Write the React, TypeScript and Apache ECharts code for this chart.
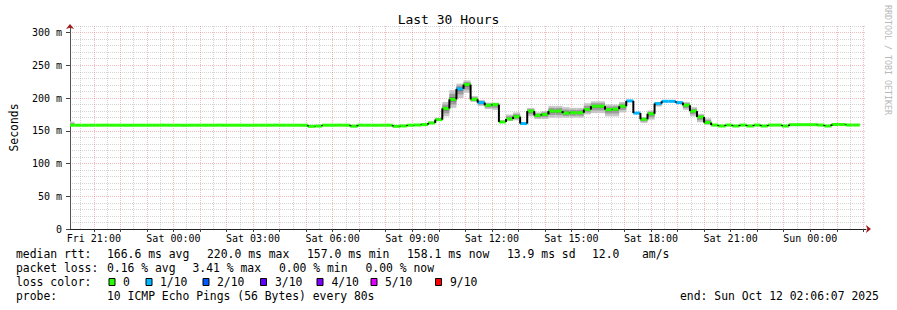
import React, { useEffect, useRef } from 'react';
import * as echarts from 'echarts';

// ---- time frame (minutes counted from Fri 2025-10-10 18:00 local) ----
const START_MIN = 126 + 7 / 60; // Fri 20:06:07
const END_MIN = 1926 + 7 / 60; // Sun 02:06:07
const FIRST_STEP_MIN = 120; // first consolidated step (16 min each)
const STEP_MIN = 16;

const dayNames = ['Fri', 'Sat', 'Sun'];
const xLabelMinutes = [180, 360, 540, 720, 900, 1080, 1260, 1440, 1620, 1800];
const yTickValues = [0, 50, 100, 150, 200, 250, 300];
const Y_MAX = 310;

// ---- median RTT per 16-minute step (ms) ----
const medianMs = [
  158.5, 158.5, 158.4, 158.5, 158.5, 158.6, 158.5, 158.5, 158.4, 158.5,
  158.5, 158.5, 158.5, 158.6, 158.5, 158.5, 158.4, 158.5, 158.5, 158.5,
  158.5, 158.6, 158.5, 158.5, 158.5, 158.4, 158.5, 158.5, 158.5, 158.6,
  158.5, 158.5, 158.5, 158.4, 156.8, 157.2, 158.5, 158.5, 158.6, 158.5,
  157.0, 158.5, 158.5, 158.4, 158.5, 158.5, 156.8, 157.4, 158.5, 158.8,
  159.5, 162.0, 167.0, 184.0, 198.0, 214.0, 220.5, 198.0, 193.0, 189.0,
  190.0, 163.5, 168.0, 171.5, 161.0, 180.0, 173.5, 175.0, 180.0, 180.0,
  177.0, 177.5, 177.5, 182.4, 187.5, 187.5, 182.4, 183.0, 187.5, 195.6,
  177.0, 167.6, 176.0, 191.6, 195.0, 195.0, 193.0, 189.0, 180.0, 171.0,
  162.5, 158.7, 157.3, 158.7, 157.3, 158.7, 157.3, 158.7, 157.3, 158.7,
  158.7, 157.3, 159.3, 159.3, 159.3, 159.3, 158.7, 157.3, 159.6, 159.6,
  158.8, 158.8,
];

// ---- smoke extent per step (ms) ----
const smokeLoMs = [
  158.0, 157.8, 157.7, 157.8, 157.8, 157.9, 157.8, 157.8, 157.7, 157.8,
  157.8, 157.8, 157.8, 157.9, 157.8, 157.8, 157.7, 157.8, 157.8, 157.8,
  157.8, 157.9, 157.8, 157.8, 157.8, 157.7, 157.8, 157.8, 157.8, 157.9,
  157.8, 157.8, 157.8, 157.7, 156.1, 156.5, 157.8, 157.8, 157.9, 157.8,
  156.3, 157.8, 157.8, 157.7, 157.8, 157.8, 156.1, 156.7, 157.8, 158.0,
  158.7, 160.5, 165.0, 172.0, 185.0, 200.0, 208.0, 194.0, 188.0, 183.0,
  182.0, 162.0, 165.0, 166.0, 160.0, 172.0, 168.0, 168.0, 170.0, 170.0,
  170.0, 170.0, 170.0, 175.0, 177.0, 177.0, 172.0, 172.0, 178.0, 194.5,
  176.0, 162.0, 167.0, 187.0, 194.0, 194.0, 192.0, 182.0, 172.0, 163.0,
  159.0, 157.8, 156.4, 157.8, 156.4, 157.8, 156.4, 157.8, 156.4, 157.8,
  157.8, 156.4, 158.4, 158.4, 158.4, 158.4, 157.8, 156.4, 158.7, 158.7,
  157.9, 157.9,
];
const smokeHiMs = [
  164.0, 159.2, 159.1, 159.2, 159.2, 159.3, 159.2, 159.2, 159.1, 159.2,
  159.2, 159.2, 159.2, 159.3, 159.2, 159.2, 159.1, 159.2, 159.2, 159.2,
  159.2, 159.3, 159.2, 159.2, 159.2, 159.1, 159.2, 159.2, 159.2, 159.3,
  159.2, 159.2, 159.2, 159.1, 157.5, 157.9, 159.2, 159.2, 159.3, 159.2,
  157.7, 159.2, 159.2, 159.1, 159.2, 159.2, 157.5, 158.1, 159.2, 159.6,
  160.3, 164.0, 170.0, 194.0, 212.0, 222.0, 227.0, 203.0, 197.0, 193.0,
  193.0, 166.0, 175.0, 178.0, 163.0, 185.0, 178.0, 180.0, 188.0, 188.0,
  186.0, 185.0, 185.0, 192.0, 195.0, 195.0, 190.0, 190.0, 194.0, 197.0,
  178.5, 171.0, 181.0, 194.0, 196.0, 196.0, 194.5, 194.0, 186.0, 176.0,
  169.0, 159.6, 158.2, 159.6, 158.2, 159.6, 158.2, 159.6, 158.2, 159.6,
  159.6, 158.2, 160.2, 160.2, 160.2, 160.2, 159.6, 158.2, 160.5, 160.5,
  159.7, 159.7,
];

// ---- packet loss per step (tenths) ----
const lossTenths = [
  0, 0, 0, 0, 0, 0, 0, 0, 0, 0,
  0, 0, 0, 0, 0, 0, 0, 0, 0, 0,
  0, 0, 0, 0, 0, 0, 0, 0, 0, 0,
  0, 0, 0, 0, 0, 0, 0, 0, 0, 0,
  0, 0, 0, 0, 0, 0, 0, 0, 0, 0,
  0, 0, 0, 0, 0, 1, 0, 0, 1, 0,
  0, 0, 0, 0, 1, 0, 0, 0, 0, 0,
  0, 0, 0, 0, 0, 0, 0, 0, 0, 1,
  1, 0, 0, 1, 1, 1, 1, 0, 0, 0,
  0, 0, 0, 0, 0, 0, 0, 0, 0, 0,
  0, 0, 0, 0, 0, 0, 0, 0, 0, 0,
  0, 0,
];

const lossLevels = [0, 1, 2, 3, 4, 5, 9];
const lossLabels = ['0', '1/10', '2/10', '3/10', '4/10', '5/10', '9/10'];
const lossColors = ['#26ff00', '#00b8ff', '#0059ff', '#5e00ff', '#7e00ff', '#dd00ff', '#ff0000'];

// ---- legend texts ----
const rttStats = ['median rtt:', '166.6 ms avg', '220.0 ms max', '157.0 ms min', '158.1 ms now', '13.9 ms sd', '12.0', 'am/s'];
const lossStats = ['packet loss:', '0.16 % avg', '3.41 % max', '0.00 % min', '0.00 % now'];
const probeText = ['probe:', '10 ICMP Echo Pings (56 Bytes) every 80s'];
const endText = 'end: Sun Oct 12 02:06:07 2025';
const titleText = 'Last 30 Hours';
const watermark = 'RRDTOOL / TOBI OETIKER';

// layout positions (pixels)
const rttX = [16, 107, 207, 307, 407, 507, 592, 642];
const lossX = [16, 107, 192.5, 279, 365.5];
const boxX = [109, 146, 203, 260.5, 317, 371, 435.5];
const boxLabelX = [123, 160, 217, 275, 331.5, 385, 450];

const MONO = "'DejaVu Sans Mono', monospace";
const LEGEND_FONT = 11.4;

function colorForLoss(l: number) {
  const i = lossLevels.indexOf(l);
  return lossColors[i >= 0 ? i : 0];
}

function fmtTime(m: number) {
  const total = Math.round(m) + 18 * 60;
  const day = Math.floor(total / 1440);
  const h = Math.floor((total % 1440) / 60);
  const mm = total % 60;
  const p = (n: number) => (n < 10 ? '0' + n : '' + n);
  return `${dayNames[day]} ${p(h)}:${p(mm)}`;
}

const hourMinutes: number[] = [];
for (let m = 180; m <= 1920; m += 60) hourMinutes.push(m);
const halfHourMinutes: number[] = [];
for (let m = 150; m <= 1920; m += 60) halfHourMinutes.push(m);
const yMinorValues: number[] = [];
for (let v = 10; v <= Y_MAX; v += 10) if (v % 50 !== 0) yMinorValues.push(v);

const rows = medianMs.map((m, j) => [
  FIRST_STEP_MIN + STEP_MIN * j,
  FIRST_STEP_MIN + STEP_MIN * (j + 1),
  m,
  smokeLoMs[j],
  smokeHiMs[j],
  lossTenths[j],
]);

function renderStep(params: any, api: any) {
  const j = params.dataIndex;
  const t0 = api.value(0) as number;
  const t1 = api.value(1) as number;
  const med = api.value(2) as number;
  const lo = api.value(3) as number;
  const hi = api.value(4) as number;
  const loss = api.value(5) as number;
  const x0 = api.coord([t0, med])[0];
  const x1 = api.coord([t1, med])[0];
  const y = (v: number) => api.coord([t0, v])[1];
  const band = (a: number, b: number, fill: string) => ({
    type: 'rect',
    shape: { x: x0, y: y(b), width: x1 - x0, height: y(a) - y(b) },
    style: { fill },
    silent: true,
  });
  const children: any[] = [
    band(lo, hi, '#c6c6c6'),
    band(med - (med - lo) * 0.6, med + (hi - med) * 0.6, '#9c9c9c'),
    band(med - (med - lo) * 0.25, med + (hi - med) * 0.25, '#6c6c6c'),
    {
      type: 'line',
      shape: { x1: x0, y1: y(med), x2: x1, y2: y(med) },
      style: { stroke: colorForLoss(loss), lineWidth: 3, lineCap: 'butt' },
      silent: true,
    },
  ];
  if (j > 0) {
    children.push({
      type: 'line',
      shape: { x1: x0, y1: y(medianMs[j - 1]), x2: x0, y2: y(med) },
      style: { stroke: '#000', lineWidth: 2, lineCap: 'butt' },
      silent: true,
    });
  }
  return { type: 'group', children };
}

function txt(x: number, y: number, text: string, extra: any = {}) {
  return {
    type: 'text',
    x,
    y,
    silent: true,
    style: {
      text,
      fontFamily: MONO,
      fontSize: LEGEND_FONT,
      fill: '#000',
      align: 'left',
      textAlign: 'left',
      verticalAlign: 'middle',
      textVerticalAlign: 'middle',
      ...extra,
    },
  };
}

export default function App() {
  const ref = useRef<HTMLDivElement>(null);
  useEffect(() => {
    if (!ref.current) return;
    const chart = echarts.init(ref.current, undefined, { renderer: 'svg' });

    const gridLineRed = { color: 'rgba(225,80,80,0.38)', width: 1, type: [1, 1] };
    const gridLineGray = { color: 'rgba(150,150,150,0.4)', width: 1, type: [1, 1] };

    const graphics: any[] = [];
    graphics.push(txt(448.5, 19, titleText, { fontSize: 13, align: 'center', textAlign: 'center' }));
    graphics.push({
      ...txt(887.5, 5, watermark, { fontSize: 8.3, fill: '#b8b8b8' }),
      rotation: -Math.PI / 2,
    });
    rttStats.forEach((t, i) => graphics.push(txt(rttX[i], 254, t)));
    lossStats.forEach((t, i) => graphics.push(txt(lossX[i], 268, t)));
    graphics.push(txt(16, 282, 'loss color:'));
    lossLabels.forEach((t, i) => {
      graphics.push({
        type: 'rect',
        silent: true,
        shape: { x: boxX[i], y: 278.5, width: 6, height: 7 },
        style: { fill: lossColors[i], stroke: '#000', lineWidth: 1 },
      });
      graphics.push(txt(boxLabelX[i], 282, t));
    });
    graphics.push(txt(16, 296, probeText[0]));
    graphics.push(txt(107, 296, probeText[1]));
    graphics.push(txt(680, 296, endText));

    const option: any = {
      animation: false,
      backgroundColor: '#ffffff',
      grid: { left: 66, right: 31, top: 26, bottom: 81 },
      xAxis: [
        {
          type: 'value',
          position: 'bottom',
          min: START_MIN,
          max: END_MIN,
          axisLine: { show: true, onZero: false, lineStyle: { color: '#222', width: 1 } },
          axisTick: { show: true, customValues: hourMinutes, length: 3, lineStyle: { color: '#444' } },
          axisLabel: {
            show: true,
            customValues: xLabelMinutes,
            formatter: (v: number) => fmtTime(v),
            fontFamily: MONO,
            fontSize: 10,
            color: '#000',
            margin: 4,
          },
          splitLine: { show: true, lineStyle: gridLineRed },
        },
        {
          type: 'value',
          position: 'top',
          min: START_MIN,
          max: END_MIN,
          axisLine: { show: false },
          axisTick: { show: false, customValues: halfHourMinutes },
          axisLabel: { show: false },
          splitLine: { show: true, lineStyle: gridLineGray },
        },
        {
          type: 'value',
          position: 'bottom',
          min: START_MIN,
          max: END_MIN,
          axisLine: {
            show: true,
            onZero: false,
            symbol: ['none', 'arrow'],
            symbolSize: [6, 5],
            symbolOffset: [0, 5],
            lineStyle: { color: '#a01818', width: 0 },
          },
          axisTick: { show: false },
          axisLabel: { show: false },
          splitLine: { show: false },
        },
      ],
      yAxis: [
        {
          type: 'value',
          position: 'left',
          min: 0,
          max: Y_MAX,
          name: 'Seconds',
          nameLocation: 'middle',
          nameGap: 51,
          nameTextStyle: { fontFamily: MONO, fontSize: 11.4, color: '#000' },
          axisLine: { show: true, onZero: false, lineStyle: { color: '#555', width: 1 } },
          axisTick: { show: true, customValues: yTickValues, length: 4, lineStyle: { color: '#444' } },
          axisLabel: {
            show: true,
            customValues: yTickValues,
            formatter: (v: number) => (v === 0 ? '0' : `${v} m`),
            fontFamily: MONO,
            fontSize: 10,
            color: '#000',
            margin: 8,
          },
          splitLine: { show: true, lineStyle: gridLineRed },
        },
        {
          type: 'value',
          position: 'right',
          min: 0,
          max: Y_MAX,
          axisLine: { show: false },
          axisTick: { show: false, customValues: yMinorValues },
          axisLabel: { show: false },
          splitLine: { show: true, lineStyle: gridLineGray },
        },
        {
          type: 'value',
          position: 'left',
          min: 0,
          max: Y_MAX,
          axisLine: {
            show: true,
            onZero: false,
            symbol: ['none', 'arrow'],
            symbolSize: [6, 5],
            symbolOffset: [0, 2],
            lineStyle: { color: '#a01818', width: 0 },
          },
          axisTick: { show: false },
          axisLabel: { show: false },
          splitLine: { show: false },
        },
      ],
      series: [
        {
          type: 'custom',
          xAxisIndex: 0,
          yAxisIndex: 0,
          renderItem: renderStep,
          data: rows,
          encode: { x: [0, 1], y: [2, 3, 4] },
          clip: true,
          silent: true,
          z: 5,
        },
      ],
      graphic: graphics,
    };
    chart.setOption(option);
    return () => chart.dispose();
  }, []);

  return (
    <div
      ref={ref}
      style={{ position: 'fixed', left: 0, top: 0, width: 897, height: 310, background: '#fff' }}
    />
  );
}
